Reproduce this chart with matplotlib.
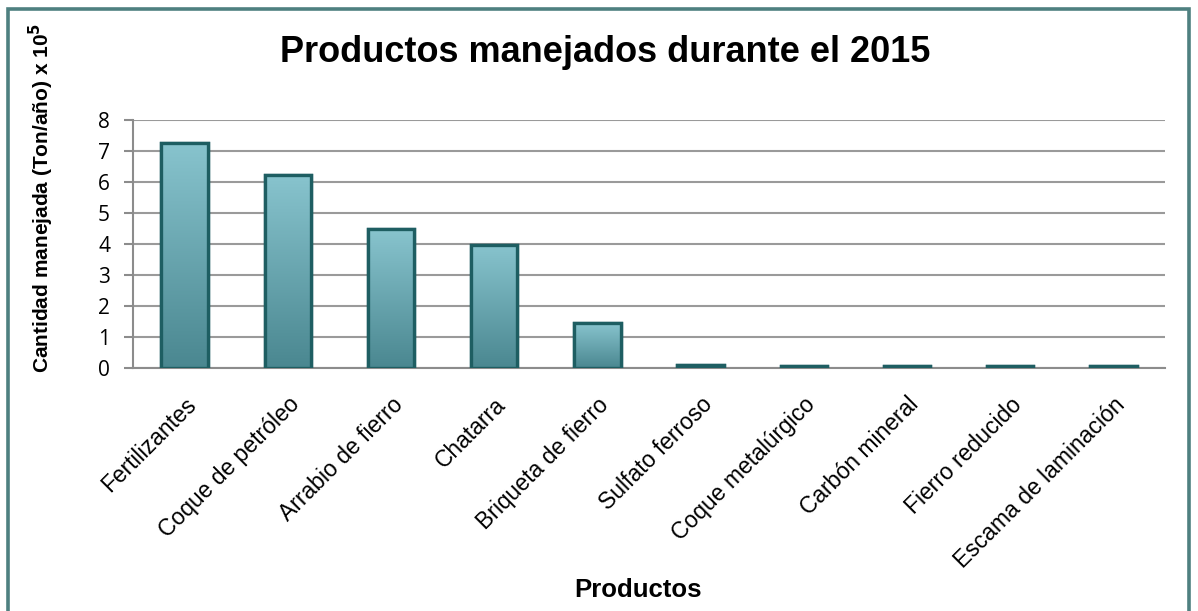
import matplotlib
matplotlib.use("Agg")
import matplotlib.pyplot as plt
from matplotlib.patches import Rectangle
from matplotlib.colors import LinearSegmentedColormap
import numpy as np

categories = ["Fertilizantes", "Coque de petróleo", "Arrabio de fierro", "Chatarra",
              "Briqueta de fierro", "Sulfato ferroso", "Coque metalúrgico",
              "Carbón mineral", "Fierro reducido", "Escama de laminación"]
values = [7.26, 6.23, 4.48, 3.97, 1.45, 0.10, 0.08, 0.05, 0.05, 0.05]
yticks = [0, 1, 2, 3, 4, 5, 6, 7, 8]

fig = plt.figure(figsize=(11.98, 6.11), dpi=100)
W, H = 1198, 611
ax = fig.add_axes([133 / W, 1 - 368 / H, (1165 - 133) / W, (368 - 120) / H])

x = np.arange(len(categories))
bars = ax.bar(x, values, width=0.45, color="#74b0bb", edgecolor="#1e5e62",
              linewidth=2.4, zorder=3)

grad = np.linspace(0, 1, 256).reshape(-1, 1)
cmap = LinearSegmentedColormap.from_list("g", ["#4a8790", "#88c4ce"])
for b in bars:
    bx, by, bw, bh = b.get_x(), b.get_y(), b.get_width(), b.get_height()
    im = ax.imshow(grad, extent=(bx, bx + bw, by, by + bh), aspect="auto",
                   cmap=cmap, origin="lower", zorder=3.5)
    im.set_clip_path(b)
    ax.bar(bx + bw / 2, bh, width=bw, bottom=by, facecolor="none",
           edgecolor="#1e5e62", linewidth=2.4, zorder=4)

ax.set_xlim(-0.5, len(categories) - 0.5)
ax.set_ylim(0, 8)
ax.set_yticks(yticks)
ax.set_yticklabels([str(t) for t in yticks], fontfamily="Open Sans", fontsize=15)
ax.set_xticks(x)
ax.set_xticklabels(categories, rotation=45, ha="right", rotation_mode="anchor",
                   fontfamily="Liberation Sans", fontsize=16.5)
ax.tick_params(axis="x", length=0, pad=18)
ax.tick_params(axis="y", length=6.5, width=1.5, color="#8c8c8c", pad=10)
ax.grid(axis="y", color="#9a9a9a", linewidth=1.5, zorder=0)
for s in ["top", "right"]:
    ax.spines[s].set_visible(False)
ax.spines["left"].set_color("#8c8c8c")
ax.spines["left"].set_linewidth(1.5)
ax.spines["bottom"].set_color("#8c8c8c")
ax.spines["bottom"].set_linewidth(1.5)
ax.set_axisbelow(True)

fig.text(605 / W, 1 - 62 / H, "Productos manejados durante el 2015",
         ha="center", va="baseline", fontfamily="Liberation Sans",
         fontweight="bold", fontsize=26)
fig.text(41 / W, 1 - 198 / H, "Cantidad manejada (Ton/año) x 10$^{\\mathbf{5}}$",
         ha="center", va="center", rotation=90, fontfamily="Liberation Sans",
         fontweight="bold", fontsize=15)
fig.text(638 / W, 1 - 597 / H, "Productos", ha="center", va="baseline",
         fontfamily="Liberation Sans", fontweight="bold", fontsize=18.5)

fig.add_artist(Rectangle((8 / W, -0.01), (1189 - 8) / W, 1 - 9 / H + 0.01,
                         transform=fig.transFigure, fill=False,
                         edgecolor="#4e8080", linewidth=2.6))

fig.savefig("out.png", dpi=100)
